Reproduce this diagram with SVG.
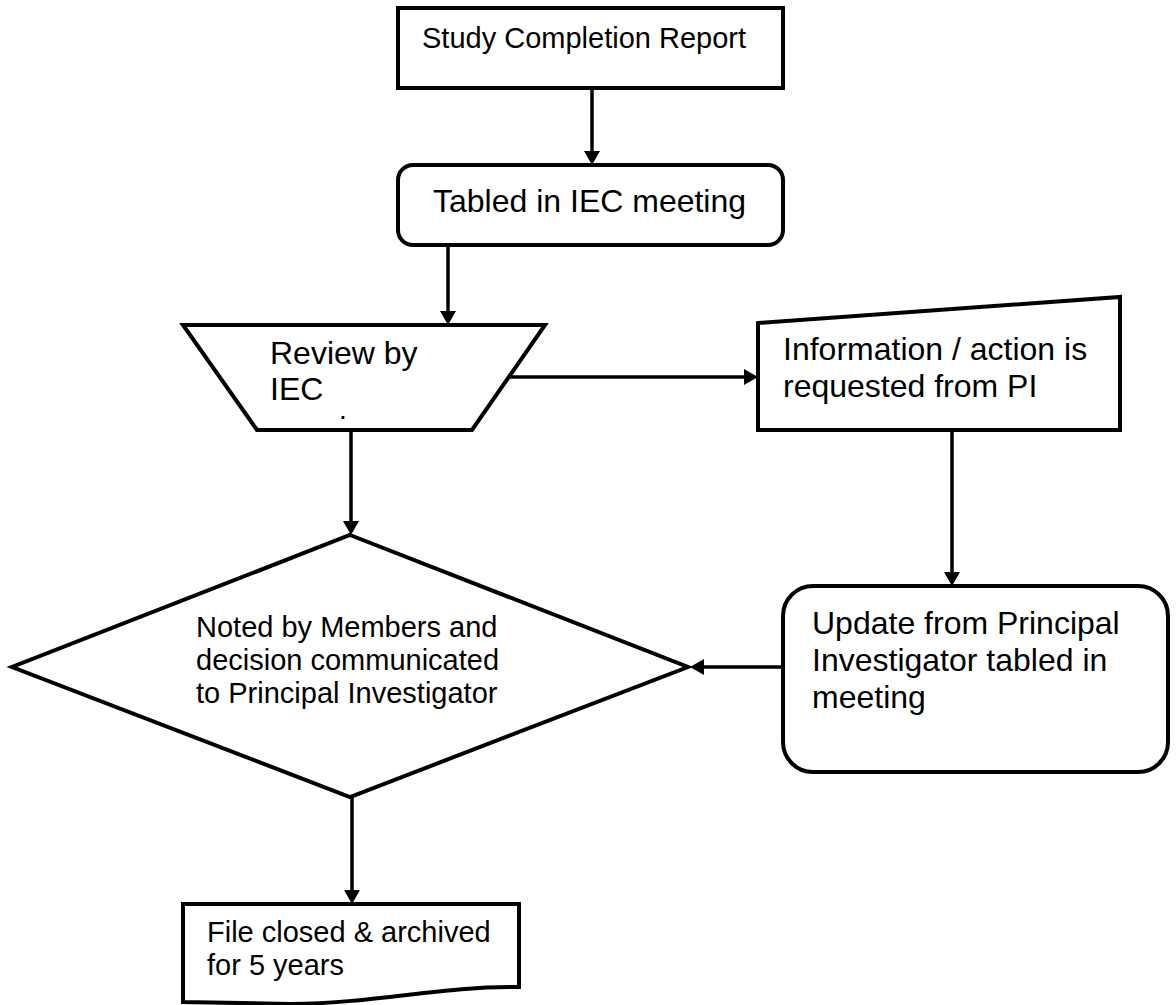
<svg xmlns="http://www.w3.org/2000/svg" width="1176" height="1005" viewBox="0 0 1176 1005">
<style>
.shape{fill:#fff;stroke:#000;stroke-width:4;stroke-linejoin:miter}
.conn{stroke:#000;stroke-width:3.5;fill:none}
.t{font-family:"Liberation Sans",Arial,sans-serif;fill:#000}
.t32{font-size:32px}
.t29{font-size:29px}
</style>
<defs>
<marker id="ah" viewBox="0 0 14 16" refX="4" refY="8" markerWidth="14" markerHeight="16" markerUnits="userSpaceOnUse" orient="auto">
<path d="M0,0 L14,8 L0,16 Z" fill="#000"/>
</marker>
</defs>
<rect width="1176" height="1005" fill="#fff"/>
<g id="connectors">
<line class="conn" x1="592" y1="88" x2="592" y2="155" marker-end="url(#ah)"/>
<line class="conn" x1="448" y1="245" x2="448" y2="315" marker-end="url(#ah)"/>
<line class="conn" x1="508" y1="377" x2="748" y2="377" marker-end="url(#ah)"/>
<line class="conn" x1="952" y1="430" x2="952" y2="576" marker-end="url(#ah)"/>
<line class="conn" x1="783" y1="667" x2="700" y2="667" marker-end="url(#ah)"/>
<line class="conn" x1="351" y1="430" x2="351" y2="525" marker-end="url(#ah)"/>
<line class="conn" x1="352" y1="797" x2="352" y2="894" marker-end="url(#ah)"/>
</g>
<g id="n1">
<rect class="shape" x="398" y="8" width="385" height="80"/>
<text class="t t29" x="422" y="48">Study Completion Report</text>
</g>
<g id="n2">
<rect class="shape" x="398" y="165" width="385" height="80" rx="15" ry="15"/>
<text class="t t32" x="433" y="212">Tabled in IEC meeting</text>
</g>
<g id="n3">
<path class="shape" d="M183,325 L545,325 L472,430 L257,430 Z"/>
<text class="t t32" x="270" y="364">Review by</text>
<text class="t t32" x="270" y="400">IEC</text>
<text class="t" font-size="28" x="339" y="419">.</text>
</g>
<g id="n4">
<path class="shape" d="M758,323 L1120,297 L1120,430 L758,430 Z"/>
<text class="t t32" x="783" y="360">Information / action is</text>
<text class="t t32" x="783" y="397">requested from PI</text>
</g>
<g id="n5">
<rect class="shape" x="783" y="586" width="385" height="186" rx="30" ry="30"/>
<text class="t t32" x="812" y="634">Update from Principal</text>
<text class="t t32" x="812" y="671">Investigator tabled in</text>
<text class="t t32" x="812" y="708">meeting</text>
</g>
<g id="n6">
<path class="shape" d="M350,535 L688,667 L350,797 L12,667 Z"/>
<text class="t t29" x="196" y="637">Noted by Members and</text>
<text class="t t29" x="196" y="670">decision communicated</text>
<text class="t t29" x="196" y="703">to Principal Investigator</text>
</g>
<g id="n7">
<path class="shape" d="M183,904 L519,904 L519,987 C440,986 380,1003 290,1004 L183,1002 Z"/>
<text class="t t29" x="207" y="942">File closed &amp; archived</text>
<text class="t t29" x="207" y="975">for 5 years</text>
</g>
</svg>
